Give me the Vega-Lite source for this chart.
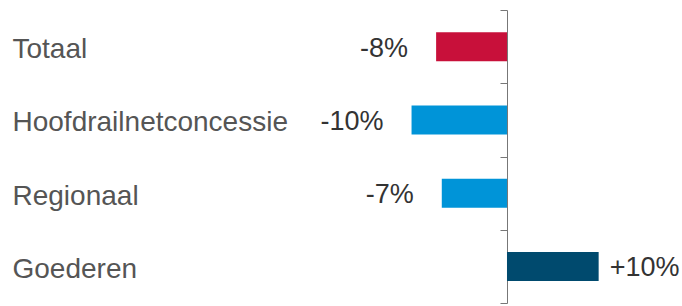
{
  "$schema": "https://vega.github.io/schema/vega-lite/v6.json",
  "width": 682,
  "height": 293,
  "autosize": {"type": "none"},
  "padding": {"top": 10, "left": 0, "right": 0, "bottom": 3},
  "background": "white",
  "config": {"view": {"stroke": null}, "font": "Liberation Sans"},
  "data": {
    "values": [
      {"cat": "Totaal", "value": -7.5, "label": "-8%", "group": "t"},
      {"cat": "Hoofdrailnetconcessie", "value": -10.1, "label": "-10%", "group": "p"},
      {"cat": "Regionaal", "value": -6.9, "label": "-7%", "group": "p"},
      {"cat": "Goederen", "value": 9.7, "label": "+10%", "group": "g"}
    ]
  },
  "encoding": {
    "y": {
      "field": "cat",
      "type": "nominal",
      "sort": null,
      "scale": {"paddingInner": 0, "paddingOuter": 0},
      "axis": {
        "title": null,
        "orient": "left",
        "offset": -507,
        "domainColor": "#777777",
        "domainWidth": 1,
        "tickColor": "#777777",
        "tickSize": 7,
        "tickBand": "extent",
        "labelAlign": "left",
        "labelPadding": 488,
        "labelLimit": 0,
        "labelFontSize": 28,
        "labelColor": "#555555",
        "labelFont": "Liberation Sans",
        "labelBaseline": "middle",
        "labelOffset": 3
      }
    },
    "x": {
      "field": "value",
      "type": "quantitative",
      "scale": {"domain": [-53.65, 18.52], "nice": false, "zero": false},
      "axis": null
    }
  },
  "layer": [
    {
      "mark": {"type": "bar", "size": 29},
      "encoding": {
        "x2": {"datum": 0},
        "color": {
          "field": "group",
          "type": "nominal",
          "scale": {"domain": ["t", "p", "g"], "range": ["#C8103A", "#0094D8", "#004A6E"]},
          "legend": null
        }
      }
    },
    {
      "transform": [{"filter": "datum.value < 0"}],
      "mark": {"type": "text", "align": "right", "baseline": "middle", "dx": -28, "dy": 2, "fontSize": 27, "color": "#333333"},
      "encoding": {"text": {"field": "label"}}
    },
    {
      "transform": [{"filter": "datum.value >= 0"}],
      "mark": {"type": "text", "align": "left", "baseline": "middle", "dx": 11, "dy": 2, "fontSize": 27, "color": "#333333"},
      "encoding": {"text": {"field": "label"}}
    }
  ]
}
